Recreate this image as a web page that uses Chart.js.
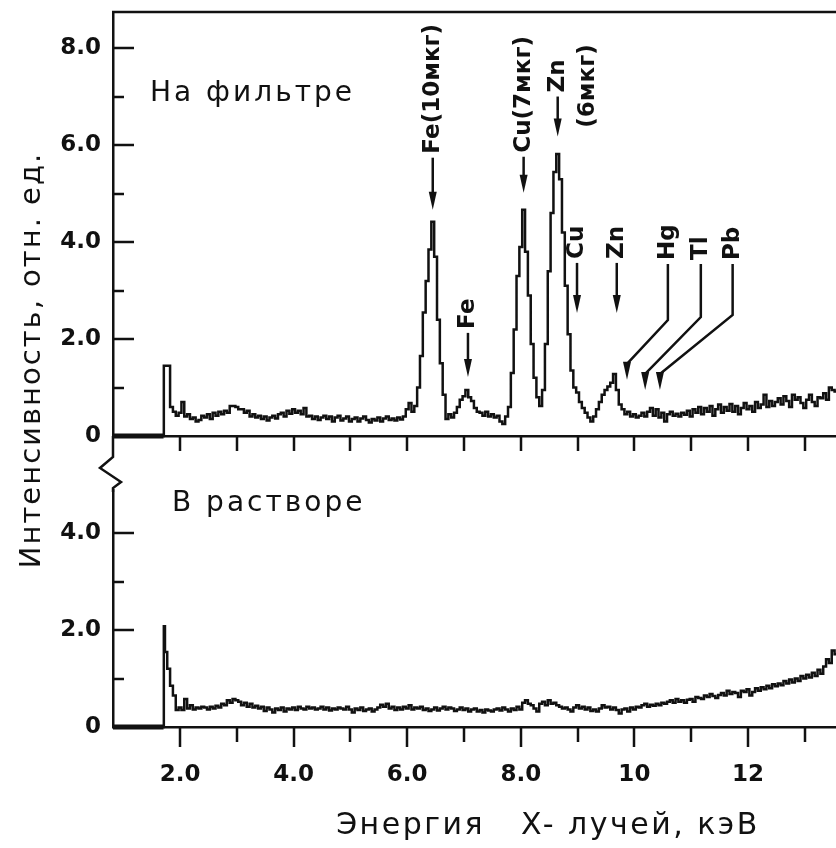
<!doctype html>
<html lang="ru">
<head>
<meta charset="utf-8">
<title>Рентгенофлуоресцентные спектры</title>
<style>
  html, body { margin: 0; padding: 0; background: #fff; }
  #wrap { position: relative; width: 836px; height: 848px; overflow: hidden; }
  #wrap canvas { position: absolute; left: 0; top: 0; }
</style>
</head>
<body>
<div id="wrap">
  <canvas id="lower" width="836" height="848"></canvas>
  <canvas id="upper" width="836" height="848"></canvas>
</div>
<script src="https://cdn.jsdelivr.net/npm/chart.js"></script>
<script>
// энергия канала, кэВ
const energy = [
  0.82, 1.71, 1.72,
  1.75, 1.80, 1.85, 1.90, 1.95,
  2.00, 2.05, 2.10, 2.15, 2.20, 2.25, 2.30, 2.35, 2.40, 2.45, 2.50, 2.55, 2.60, 2.65, 2.70, 2.75, 2.80, 2.85, 2.90, 2.95,
  3.00, 3.05, 3.10, 3.15, 3.20, 3.25, 3.30, 3.35, 3.40, 3.45, 3.50, 3.55, 3.60, 3.65, 3.70, 3.75, 3.80, 3.85, 3.90, 3.95,
  4.00, 4.05, 4.10, 4.15, 4.20, 4.25, 4.30, 4.35, 4.40, 4.45, 4.50, 4.55, 4.60, 4.65, 4.70, 4.75, 4.80, 4.85, 4.90, 4.95,
  5.00, 5.05, 5.10, 5.15, 5.20, 5.25, 5.30, 5.35, 5.40, 5.45, 5.50, 5.55, 5.60, 5.65, 5.70, 5.75, 5.80, 5.85, 5.90, 5.95,
  6.00, 6.05, 6.10, 6.15, 6.20, 6.25, 6.30, 6.35, 6.40, 6.45, 6.50, 6.55, 6.60, 6.65, 6.70, 6.75, 6.80, 6.85, 6.90, 6.95,
  7.00, 7.05, 7.10, 7.15, 7.20, 7.25, 7.30, 7.35, 7.40, 7.45, 7.50, 7.55, 7.60, 7.65, 7.70, 7.75, 7.80, 7.85, 7.90, 7.95,
  8.00, 8.05, 8.10, 8.15, 8.20, 8.25, 8.30, 8.35, 8.40, 8.45, 8.50, 8.55, 8.60, 8.65, 8.70, 8.75, 8.80, 8.85, 8.90, 8.95,
  9.00, 9.05, 9.10, 9.15, 9.20, 9.25, 9.30, 9.35, 9.40, 9.45, 9.50, 9.55, 9.60, 9.65, 9.70, 9.75, 9.80, 9.85, 9.90, 9.95,
  10.00, 10.05, 10.10, 10.15, 10.20, 10.25, 10.30, 10.35, 10.40, 10.45, 10.50, 10.55, 10.60, 10.65, 10.70, 10.75, 10.80, 10.85, 10.90, 10.95,
  11.00, 11.05, 11.10, 11.15, 11.20, 11.25, 11.30, 11.35, 11.40, 11.45, 11.50, 11.55, 11.60, 11.65, 11.70, 11.75, 11.80, 11.85, 11.90, 11.95,
  12.00, 12.05, 12.10, 12.15, 12.20, 12.25, 12.30, 12.35, 12.40, 12.45, 12.50, 12.55, 12.60, 12.65, 12.70, 12.75, 12.80, 12.85, 12.90, 12.95,
  13.00, 13.05, 13.10, 13.15, 13.20, 13.25, 13.30, 13.35, 13.40, 13.45, 13.50, 13.55
]

// на фильтре, отн. ед.
const onFilter = [
  0, 0, 1.45,
  1.45, 1.45, 0.60, 0.50, 0.42,
  0.48, 0.70, 0.40, 0.45, 0.35, 0.38, 0.30, 0.33, 0.42, 0.38, 0.45, 0.35, 0.48, 0.42, 0.50, 0.45, 0.52, 0.48, 0.62, 0.62,
  0.60, 0.55, 0.55, 0.48, 0.52, 0.40, 0.45, 0.38, 0.42, 0.35, 0.40, 0.32, 0.38, 0.42, 0.36, 0.45, 0.48, 0.40, 0.52, 0.46,
  0.55, 0.48, 0.52, 0.45, 0.58, 0.40, 0.42, 0.35, 0.40, 0.33, 0.38, 0.42, 0.35, 0.40, 0.30, 0.38, 0.42, 0.32, 0.36, 0.40,
  0.30, 0.35, 0.38, 0.30, 0.36, 0.40, 0.33, 0.28, 0.35, 0.32, 0.38, 0.30, 0.36, 0.40, 0.33, 0.36, 0.32, 0.38, 0.34, 0.40,
  0.55, 0.68, 0.50, 0.62, 1.00, 1.65, 2.55, 3.20, 3.85, 4.42, 3.70, 2.40, 1.50, 0.85, 0.35, 0.45, 0.38, 0.48, 0.60, 0.75,
  0.82, 0.95, 0.80, 0.72, 0.58, 0.50, 0.48, 0.42, 0.50, 0.40, 0.45, 0.38, 0.42, 0.30, 0.25, 0.40, 0.60, 1.30, 2.20, 3.30,
  3.90, 4.67, 3.80, 2.90, 1.90, 1.20, 0.80, 0.62, 0.95, 1.90, 3.40, 4.60, 5.45, 5.82, 5.30, 4.20, 3.10, 2.10, 1.35, 1.00,
  0.90, 0.70, 0.58, 0.48, 0.38, 0.30, 0.40, 0.55, 0.70, 0.85, 0.95, 1.02, 1.10, 1.28, 0.95, 0.65, 0.55, 0.45, 0.50, 0.40,
  0.45, 0.38, 0.42, 0.48, 0.40, 0.50, 0.58, 0.42, 0.55, 0.38, 0.48, 0.30, 0.45, 0.50, 0.42, 0.46, 0.40, 0.48, 0.44, 0.52,
  0.40, 0.55, 0.48, 0.60, 0.45, 0.58, 0.50, 0.62, 0.42, 0.55, 0.65, 0.48, 0.60, 0.52, 0.66, 0.50, 0.62, 0.45, 0.58, 0.68,
  0.55, 0.62, 0.50, 0.70, 0.58, 0.65, 0.85, 0.60, 0.72, 0.62, 0.70, 0.78, 0.65, 0.82, 0.72, 0.60, 0.85, 0.75, 0.80, 0.68,
  0.58, 0.75, 0.85, 0.70, 0.62, 0.80, 0.78, 0.88, 0.75, 1.00, 0.95, 0.92
]

// в растворе, отн. ед.
const inSolution = [
  0, 0, 2.08,
  1.55, 1.20, 0.85, 0.65, 0.35,
  0.40, 0.35, 0.58, 0.38, 0.45, 0.36, 0.40, 0.38, 0.42, 0.40, 0.36, 0.42, 0.38, 0.44, 0.40, 0.48, 0.45, 0.55, 0.50, 0.58,
  0.55, 0.52, 0.45, 0.50, 0.42, 0.48, 0.40, 0.44, 0.38, 0.42, 0.33, 0.40, 0.36, 0.30, 0.38, 0.35, 0.40, 0.32, 0.38, 0.36,
  0.40, 0.35, 0.42, 0.38, 0.36, 0.42, 0.38, 0.40, 0.36, 0.38, 0.42, 0.36, 0.40, 0.34, 0.38, 0.36, 0.40, 0.38, 0.36, 0.42,
  0.36, 0.30, 0.38, 0.35, 0.40, 0.33, 0.36, 0.38, 0.32, 0.36, 0.40, 0.46, 0.42, 0.48, 0.38, 0.42, 0.35, 0.40, 0.36, 0.42,
  0.38, 0.45, 0.36, 0.40, 0.38, 0.42, 0.35, 0.38, 0.33, 0.36, 0.40, 0.34, 0.38, 0.42, 0.36, 0.40, 0.38, 0.33, 0.36, 0.40,
  0.35, 0.38, 0.32, 0.36, 0.38, 0.32, 0.35, 0.30, 0.36, 0.34, 0.32, 0.36, 0.38, 0.34, 0.40, 0.36, 0.32, 0.38, 0.35, 0.42,
  0.36, 0.50, 0.55, 0.48, 0.45, 0.38, 0.32, 0.48, 0.52, 0.45, 0.55, 0.48, 0.50, 0.45, 0.42, 0.38, 0.40, 0.36, 0.32, 0.40,
  0.45, 0.38, 0.42, 0.36, 0.40, 0.33, 0.36, 0.32, 0.38, 0.45, 0.40, 0.42, 0.36, 0.40, 0.35, 0.28, 0.36, 0.38, 0.32, 0.40,
  0.36, 0.42, 0.40, 0.45, 0.48, 0.42, 0.46, 0.44, 0.48, 0.45, 0.50, 0.48, 0.52, 0.55, 0.50, 0.58, 0.52, 0.55, 0.50, 0.56,
  0.58, 0.52, 0.62, 0.60, 0.58, 0.65, 0.62, 0.68, 0.64, 0.60, 0.66, 0.70, 0.65, 0.75, 0.68, 0.72, 0.70, 0.62, 0.75, 0.72,
  0.78, 0.65, 0.72, 0.80, 0.75, 0.82, 0.78, 0.85, 0.80, 0.88, 0.84, 0.90, 0.86, 0.95, 0.90, 0.98, 0.92, 1.00, 0.95, 1.05,
  1.00, 1.08, 1.02, 1.12, 1.05, 1.18, 1.10, 1.25, 1.40, 1.32, 1.58, 1.50
]

const xTickMarks = [2, 3, 4, 5, 6, 7, 8, 9, 10, 11, 12, 13]
const xTickLabels = [2, 4, 6, 8, 10, 12]
const upperTickMarks = [1, 2, 3, 4, 5, 6, 7, 8]
const upperTickLabels = [0, 2, 4, 6, 8]
const lowerTickMarks = [1, 2, 3, 4]
const lowerTickLabels = [0, 2, 4]

// линии элементов: подпись и энергия, на которую указывает стрелка
const markLabels = ['Fe(10мкг)', 'Fe', 'Cu(7мкг)', 'Zn', 'Cu', 'Zn', 'Hg', 'Tl', 'Pb']
const markEnergy = [6.45, 7.07, 8.05, 8.65, 8.99, 9.69, 9.87, 10.19, 10.45]
const markTip = [4.67, 1.22, 5.02, 6.18, 2.54, 2.54, 1.16, 0.95, 0.95]

const ink = '#111'
const sans = '"DejaVu Sans", "Liberation Sans", sans-serif'

// как рисовать стрелки (пиксели)
const markLayout = [
  { shaft: 52 },
  { shaft: 44 },
  { shaft: 36 },
  { shaft: 40, note: '(6мкг)', noteE: 9.18, noteY: 86 },
  { shaft: 50 },
  { shaft: 50 },
  { leadE: 10.59, textY: 260, knee: 320 },
  { leadE: 11.17, textY: 260, knee: 317 },
  { leadE: 11.73, textY: 260, knee: 315 },
]

function vText(ctx, str, x, y, align) {
  ctx.save()
  ctx.translate(x, y)
  ctx.rotate(-Math.PI / 2)
  ctx.textAlign = align || 'left'
  ctx.textBaseline = 'middle'
  ctx.fillText(str, 0, 0)
  ctx.restore()
}

function arrowHead(ctx, x, tipY) {
  ctx.beginPath()
  ctx.moveTo(x, tipY)
  ctx.lineTo(x - 4, tipY - 18)
  ctx.lineTo(x + 4, tipY - 18)
  ctx.closePath()
  ctx.fill()
}

function tickMarks(chart, yMarks, xMajor, xMinor) {
  const { ctx, chartArea: a, scales } = chart
  ctx.save()
  ctx.strokeStyle = ink
  ctx.lineWidth = 2.5
  ctx.beginPath()
  yMarks.forEach((v) => {
    const py = Math.round(scales.y.getPixelForValue(v))
    ctx.moveTo(a.left, py)
    ctx.lineTo(a.left + (v % 2 === 0 ? 21 : 11), py)
  })
  xTickMarks.forEach((v) => {
    const px = Math.round(scales.x.getPixelForValue(v))
    ctx.moveTo(px, a.bottom)
    ctx.lineTo(px, a.bottom + (v % 2 === 0 ? xMajor : xMinor))
  })
  ctx.stroke()
  ctx.restore()
}

const upperDecor = {
  id: 'upperDecor',
  afterDraw(chart) {
    const { ctx, chartArea: a, scales: { x, y } } = chart
    tickMarks(chart, upperTickMarks, 15, 15)
    ctx.save()
    ctx.strokeStyle = ink
    ctx.fillStyle = ink
    ctx.lineWidth = 2.5
    ctx.beginPath()
    ctx.moveTo(a.left - 1, a.top)
    ctx.lineTo(a.right, a.top)
    ctx.stroke()

    ctx.font = '28px ' + sans
    ctx.letterSpacing = '3px'
    ctx.textBaseline = 'alphabetic'
    ctx.fillText('На фильтре', 150, 101)

    ctx.font = 'bold 23px ' + sans
    ctx.letterSpacing = '0px'
    ctx.lineWidth = 2.5
    markLabels.forEach((label, i) => {
      const lay = markLayout[i]
      const tx = x.getPixelForValue(markEnergy[i])
      const tipY = y.getPixelForValue(markTip[i])
      ctx.beginPath()
      if (lay.leadE) {
        const lx = x.getPixelForValue(lay.leadE)
        vText(ctx, label, lx, lay.textY)
        ctx.moveTo(lx, lay.textY + 4)
        ctx.lineTo(lx, lay.knee)
        ctx.lineTo(tx, tipY - 16)
      } else {
        const top = tipY - lay.shaft
        vText(ctx, label, tx, top - 4)
        ctx.moveTo(tx, top)
        ctx.lineTo(tx, tipY - 16)
      }
      ctx.stroke()
      arrowHead(ctx, tx, tipY)
      if (lay.note) vText(ctx, lay.note, x.getPixelForValue(lay.noteE), lay.noteY, 'center')
    })
    ctx.restore()
  },
}

const lowerDecor = {
  id: 'lowerDecor',
  afterDraw(chart) {
    const { ctx, chartArea: a } = chart
    tickMarks(chart, lowerTickMarks, 20, 15)
    ctx.save()
    ctx.strokeStyle = ink
    ctx.fillStyle = ink
    ctx.lineWidth = 2.5
    // разрыв оси
    ctx.beginPath()
    ctx.moveTo(a.left, a.top - 54)
    ctx.lineTo(a.left, a.top - 33)
    ctx.lineTo(a.left - 13, a.top - 22)
    ctx.lineTo(a.left + 8, a.top - 8)
    ctx.lineTo(a.left, a.top - 2)
    ctx.lineTo(a.left, a.top + 2)
    ctx.stroke()

    ctx.font = '28px ' + sans
    ctx.letterSpacing = '3px'
    ctx.textBaseline = 'alphabetic'
    ctx.fillText('В растворе', 172, 511)

    ctx.font = '29px ' + sans
    ctx.letterSpacing = '2px'
    vText(ctx, 'Интенсивность, отн. ед.', 32, 360, 'center')

    ctx.font = '30px ' + sans
    ctx.letterSpacing = '2.5px'
    ctx.textAlign = 'center'
    ctx.textBaseline = 'middle'
    ctx.fillText('Энергия   X- лучей, кэВ', 548, 826)
    ctx.restore()
  },
}

function yAxis(max, labels) {
  return {
    min: 0,
    max: max,
    afterBuildTicks: (s) => { s.ticks = labels.map((v) => ({ value: v })) },
    afterFit: (s) => { s.width = 113; s.paddingTop = 0; s.paddingBottom = 0 },
    grid: { display: false, drawTicks: false },
    border: { display: true, color: ink, width: 2.5 },
    ticks: {
      padding: 12,
      color: ink,
      font: { family: sans, size: 23, weight: 'bold' },
      callback: (v) => (v === 0 ? '0' : v.toFixed(1)),
    },
  }
}

function spectrum(values) {
  return {
    data: values,
    borderColor: ink,
    borderWidth: 2.5,
    stepped: 'middle',
    pointRadius: 0,
    fill: false,
    clip: false,
    segment: { borderWidth: (c) => (c.p1DataIndex <= 1 ? 5 : 2.5) },
  }
}

const common = {
  responsive: false,
  animation: false,
  events: [],
  plugins: { legend: { display: false }, tooltip: { enabled: false } },
}

new Chart(document.getElementById('upper'), {
  type: 'line',
  data: { labels: energy, datasets: [spectrum(onFilter)] },
  options: {
    ...common,
    layout: { padding: { top: 12, bottom: 412, left: 0, right: 0 } },
    scales: {
      x: {
        type: 'linear',
        min: 0.82,
        max: 13.55,
        afterFit: (s) => { s.height = 0; s.paddingLeft = 0; s.paddingRight = 0 },
        grid: { display: false, drawTicks: false },
        border: { display: true, color: ink, width: 2.5 },
        ticks: { display: false },
      },
      y: yAxis(8.75, upperTickLabels),
    },
  },
  plugins: [upperDecor],
})

new Chart(document.getElementById('lower'), {
  type: 'line',
  data: { labels: energy, datasets: [spectrum(inSolution)] },
  options: {
    ...common,
    layout: { padding: { top: 490, bottom: 0, left: 0, right: 0 } },
    scales: {
      x: {
        type: 'linear',
        min: 0.82,
        max: 13.55,
        afterBuildTicks: (s) => { s.ticks = xTickLabels.map((v) => ({ value: v })) },
        afterFit: (s) => { s.height = 121; s.paddingLeft = 0; s.paddingRight = 0 },
        grid: { display: false, drawTicks: false },
        border: { display: true, color: ink, width: 2.5 },
        ticks: {
          padding: 34,
          color: ink,
          maxRotation: 0,
          font: { family: sans, size: 23, weight: 'bold' },
          callback: (v) => (v >= 10 ? String(v) : v.toFixed(1)),
        },
      },
      y: yAxis(4.89, lowerTickLabels),
    },
  },
  plugins: [lowerDecor],
})
</script>
</body>
</html>
